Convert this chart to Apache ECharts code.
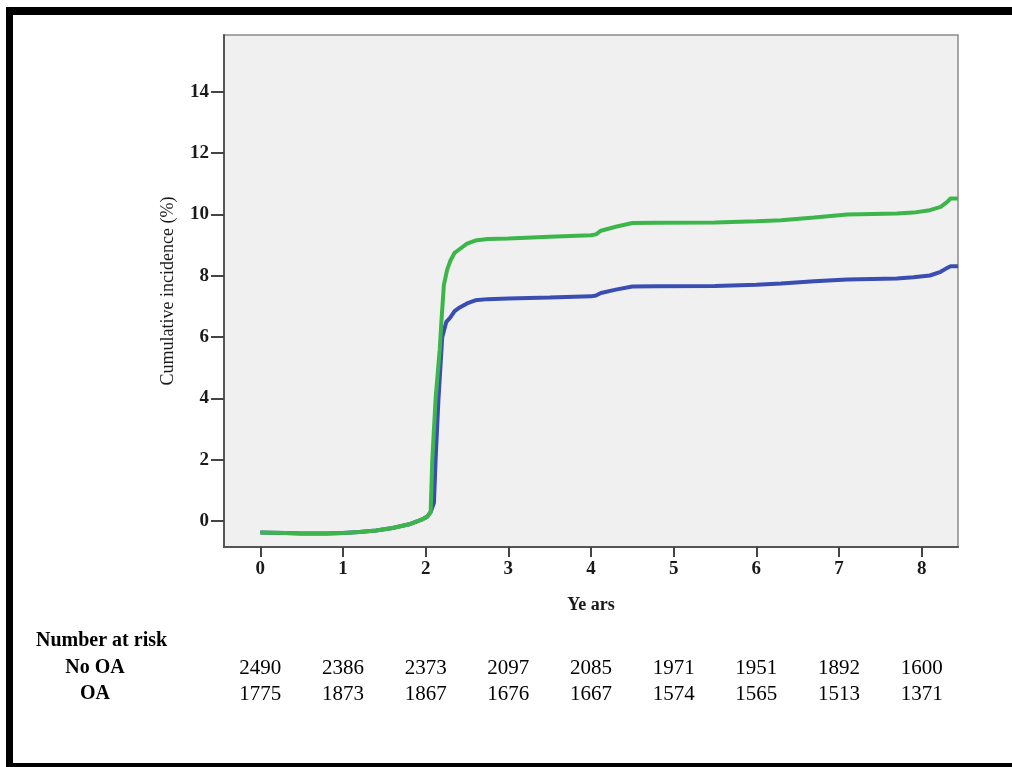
<!DOCTYPE html>
<html>
<head>
<meta charset="utf-8">
<script src="https://cdn.jsdelivr.net/npm/echarts@6/dist/echarts.min.js"></script>
<style>
    html, body { margin: 0; padding: 0; background: #fff; }
    #main { width: 1012px; height: 767px; }
</style>
</head>
<body>
<div id="main"></div>
<script>
// curves (years, cumulative incidence %)
let greenYears = [0, 0.3, 0.5, 0.8, 1.0, 1.2, 1.4, 1.6, 1.8, 1.95, 2.02, 2.06, 2.08, 2.12, 2.17, 2.19, 2.22, 2.26, 2.30, 2.35, 2.40, 2.50, 2.60, 2.75, 3.0, 3.5, 4.0, 4.06, 4.12, 4.3, 4.5, 4.8, 5.5, 6.0, 6.3, 6.7, 7.1, 7.7, 7.9, 8.1, 8.23, 8.31, 8.35, 8.44];
let greenValues = [-0.37, -0.38, -0.40, -0.40, -0.38, -0.35, -0.30, -0.22, -0.10, 0.05, 0.15, 0.3, 2.0, 4.0, 5.6, 6.5, 7.7, 8.2, 8.5, 8.75, 8.85, 9.05, 9.15, 9.2, 9.22, 9.27, 9.32, 9.35, 9.47, 9.6, 9.72, 9.73, 9.74, 9.78, 9.81, 9.90, 10.0, 10.03, 10.06, 10.14, 10.25, 10.41, 10.52, 10.52];

let blueYears = [0, 0.3, 0.5, 0.8, 1.0, 1.2, 1.4, 1.6, 1.8, 1.95, 2.02, 2.06, 2.10, 2.12, 2.155, 2.20, 2.25, 2.30, 2.35, 2.40, 2.50, 2.60, 2.75, 3.0, 3.5, 4.0, 4.06, 4.12, 4.3, 4.5, 4.8, 5.5, 6.0, 6.3, 6.7, 7.1, 7.7, 7.9, 8.1, 8.23, 8.31, 8.35, 8.44];
let blueValues = [-0.37, -0.38, -0.40, -0.40, -0.38, -0.35, -0.30, -0.22, -0.10, 0.05, 0.15, 0.3, 0.6, 2.0, 4.0, 6.0, 6.5, 6.65, 6.85, 6.95, 7.1, 7.2, 7.24, 7.26, 7.29, 7.33, 7.36, 7.44, 7.55, 7.65, 7.66, 7.67, 7.71, 7.75, 7.82, 7.88, 7.91, 7.95, 8.01, 8.13, 8.26, 8.31, 8.31];

let xTicks = [0, 1, 2, 3, 4, 5, 6, 7, 8];
let yTicks = [0, 2, 4, 6, 8, 10, 12, 14];

// number at risk table
let riskGroups = ['No OA', 'OA'];
let riskYears = [0, 1, 2, 3, 4, 5, 6, 7, 8];
let riskNoOA = [2490, 2386, 2373, 2097, 2085, 1971, 1951, 1892, 1600];
let riskOA = [1775, 1873, 1867, 1676, 1667, 1574, 1565, 1513, 1371];

const serif = '"Liberation Serif", "DejaVu Serif", serif';

function pairs(xs, ys) {
    let out = [];
    for (let i = 0; i < xs.length; i++) out.push([xs[i], ys[i]]);
    return out;
}

let riskData = [];
for (let i = 0; i < riskYears.length; i++) {
    riskData.push([riskYears[i], riskGroups[0], riskNoOA[i]]);
    riskData.push([riskYears[i], riskGroups[1], riskOA[i]]);
}

const chart = echarts.init(document.getElementById('main'), null, { renderer: 'canvas' });

let option = {
    animation: false,
    backgroundColor: '#fff',
    grid: [
        {
            left: 224, top: 35, width: 734, height: 512,
            show: true,
            backgroundColor: '#f0f0f0',
            borderColor: '#8a8a8a',
            borderWidth: 1.5
        },
        {
            left: 224, top: 655, width: 734, height: 52
        }
    ],
    xAxis: [
        {
            gridIndex: 0,
            type: 'value',
            min: -0.44,
            max: 8.44,
            name: 'Ye ars',
            nameLocation: 'middle',
            nameGap: 49,
            nameTextStyle: { fontFamily: serif, fontWeight: 'bold', fontSize: 18, color: '#1a1a1a' },
            splitLine: { show: false },
            axisLine: { onZero: false, lineStyle: { color: '#555', width: 2 } },
            axisTick: { show: true, length: 10, customValues: xTicks, lineStyle: { color: '#444', width: 2 } },
            axisLabel: { customValues: xTicks, margin: 13, fontFamily: serif, fontWeight: 'bold', fontSize: 19, color: '#1a1a1a' }
        },
        {
            gridIndex: 1,
            type: 'value',
            min: -0.44,
            max: 8.44,
            show: false
        }
    ],
    yAxis: [
        {
            gridIndex: 0,
            type: 'value',
            min: -0.84,
            max: 15.85,
            name: 'Cumulative incidence (%)',
            nameLocation: 'middle',
            nameRotate: 90,
            nameGap: 47,
            nameTextStyle: { fontFamily: serif, fontSize: 18, color: '#1a1a1a' },
            splitLine: { show: false },
            axisLine: { show: true, onZero: false, lineStyle: { color: '#555', width: 2 } },
            axisTick: { show: true, length: 13, customValues: yTicks, lineStyle: { color: '#444', width: 2 } },
            axisLabel: { customValues: yTicks, margin: 15, fontFamily: serif, fontWeight: 'bold', fontSize: 19, color: '#1a1a1a' }
        },
        {
            gridIndex: 1,
            type: 'category',
            data: riskGroups,
            inverse: true,
            axisLine: { show: false },
            axisTick: { show: false },
            splitLine: { show: false },
            axisLabel: { interval: 0, hideOverlap: false, margin: 129, align: 'center', fontFamily: serif, fontWeight: 'bold', fontSize: 20, color: '#000' }
        }
    ],
    series: [
        {
            name: 'OA',
            type: 'line',
            xAxisIndex: 0,
            yAxisIndex: 0,
            data: pairs(blueYears, blueValues),
            showSymbol: false,
            lineStyle: { color: '#3a4db3', width: 4 },
            z: 2
        },
        {
            name: 'No OA',
            type: 'line',
            xAxisIndex: 0,
            yAxisIndex: 0,
            data: pairs(greenYears, greenValues),
            showSymbol: false,
            lineStyle: { color: '#3cb64a', width: 4 },
            z: 3
        },
        {
            type: 'scatter',
            xAxisIndex: 1,
            yAxisIndex: 1,
            symbolSize: 0,
            data: riskData,
            itemStyle: { opacity: 1 },
            label: {
                show: true,
                position: 'inside',
                formatter: function (p) { return p.value[2]; },
                fontFamily: serif,
                fontSize: 21,
                color: '#000'
            }
        }
    ],
    graphic: [
        { type: 'text', left: 36, top: 631, style: { text: 'Number at risk', font: 'bold 20px ' + serif, fill: '#000' } },
        // black frame round the figure
        { type: 'rect', shape: { x: 6, y: 7, width: 1006, height: 8 }, style: { fill: '#000' } },
        { type: 'rect', shape: { x: 6, y: 7, width: 7, height: 760 }, style: { fill: '#000' } },
        { type: 'rect', shape: { x: 6, y: 763, width: 1006, height: 4 }, style: { fill: '#000' } }
    ]
};

chart.setOption(option);
</script>
</body>
</html>
